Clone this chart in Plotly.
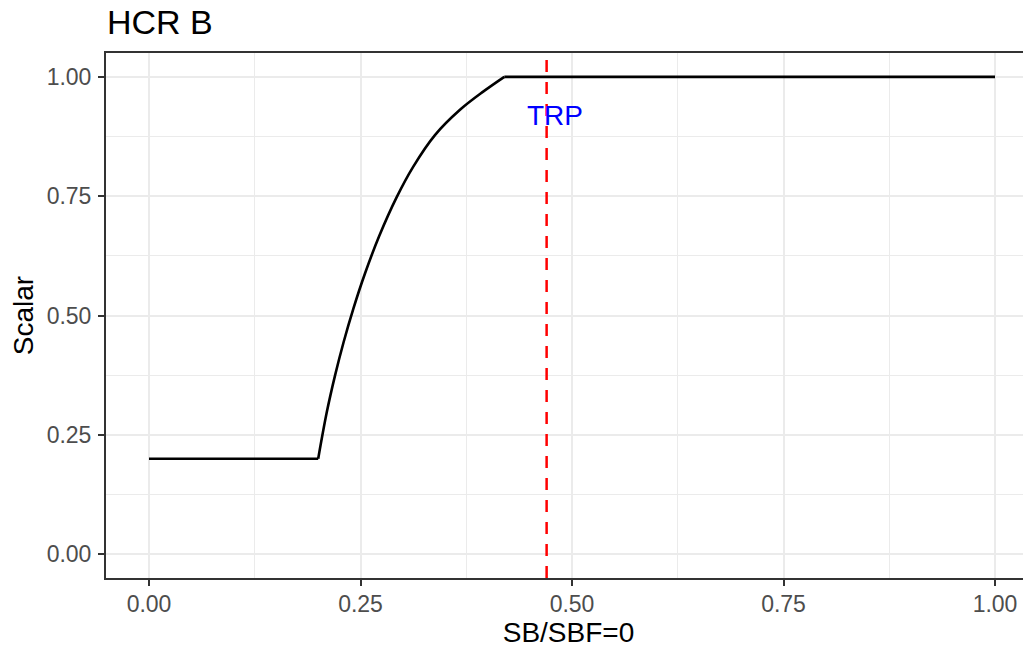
# ---------- LIBRARIES ---------- #
import plotly.graph_objects as go

# ---------- DATA ---------- #
# harvest control rule B
sb_ratio = [0.00, 0.20, 0.21, 0.22, 0.23, 0.2415, 0.2553, 0.272, 0.2928,
            0.3124, 0.338, 0.3676, 0.395, 0.42, 1.00]
scalar = [0.20, 0.20, 0.296, 0.375, 0.444, 0.514, 0.588, 0.666, 0.748,
          0.812, 0.878, 0.931, 0.969, 1.00, 1.00]
trp = 0.47
trp_label = "TRP"
trp_label_x = 0.48
trp_label_y = 0.92

x_ticks = [0.0, 0.25, 0.5, 0.75, 1.0]
x_tick_text = ["0.00", "0.25", "0.50", "0.75", "1.00"]
y_ticks = [0.0, 0.25, 0.5, 0.75, 1.0]
y_tick_text = ["0.00", "0.25", "0.50", "0.75", "1.00"]
minor_ticks = [0.125, 0.375, 0.625, 0.875]

# ---------- MAIN ----------- #
W, H = 1031, 649
OFF = 8  # page body margin shifts the whole figure by this much
FONT = "Liberation Sans, Arial, sans-serif"

fig = go.Figure()

line_style = dict(color="black", width=2.6)
# flat floor, curved ramp, flat ceiling
fig.add_trace(go.Scatter(x=sb_ratio[:2], y=scalar[:2], mode="lines",
                         line=line_style, showlegend=False, hoverinfo="skip"))
fig.add_trace(go.Scatter(x=sb_ratio[1:-1], y=scalar[1:-1], mode="lines",
                         line=dict(line_style, shape="spline", smoothing=1.0),
                         showlegend=False, hoverinfo="skip"))
fig.add_trace(go.Scatter(x=sb_ratio[-2:], y=scalar[-2:], mode="lines",
                         line=line_style, showlegend=False, hoverinfo="skip"))

# dashed target reference point
fig.add_vline(x=trp, line=dict(color="red", width=2.5, dash="12px,10px"), layer="above")

fig.add_annotation(
    x=trp_label_x, y=trp_label_y, text=trp_label, showarrow=False,
    font=dict(family=FONT, size=28, color="blue"),
    xanchor="center", yanchor="middle",
)

grid_major = "#EBEBEB"
axis_common = dict(
    automargin=False,
    showgrid=True, gridcolor=grid_major, gridwidth=2,
    zeroline=False,
    ticks="outside", ticklen=6, tickwidth=2, tickcolor="#333333",
    tickfont=dict(family=FONT, size=23, color="#4D4D4D"),
    showline=True, linecolor="#333333", linewidth=2,
    minor=dict(tickvals=minor_ticks, showgrid=True, gridcolor=grid_major,
               gridwidth=1, ticks=""),
)

fig.update_layout(
    width=W, height=H,
    margin=dict(l=106 - OFF, r=OFF, t=53 - OFF, b=H - (578 - OFF)),
    plot_bgcolor="white", paper_bgcolor="white",
    font=dict(family=FONT, color="black"),
    title=dict(
        text="HCR B", x=(107 - OFF) / W, xanchor="left", xref="container",
        y=1 - (22 - OFF) / H, yanchor="middle", yref="container",
        font=dict(family=FONT, size=34, color="black"),
    ),
    xaxis=dict(
        axis_common,
        range=[(106 - 149) / 846, (1031 - 149) / 846],
        tickvals=x_ticks, ticktext=x_tick_text,
        mirror=True, ticklabelstandoff=-2,
        title=dict(text="SB/SBF=0", font=dict(family=FONT, size=28, color="black"), standoff=2),
    ),
    yaxis=dict(
        axis_common,
        range=[-0.05, 1.05],
        tickvals=y_ticks, ticktext=y_tick_text,
        mirror=False, ticklabelstandoff=2,
        title=dict(text="Scalar", font=dict(family=FONT, size=28, color="black"), standoff=10),
    ),
)

fig.write_html("out.html")
